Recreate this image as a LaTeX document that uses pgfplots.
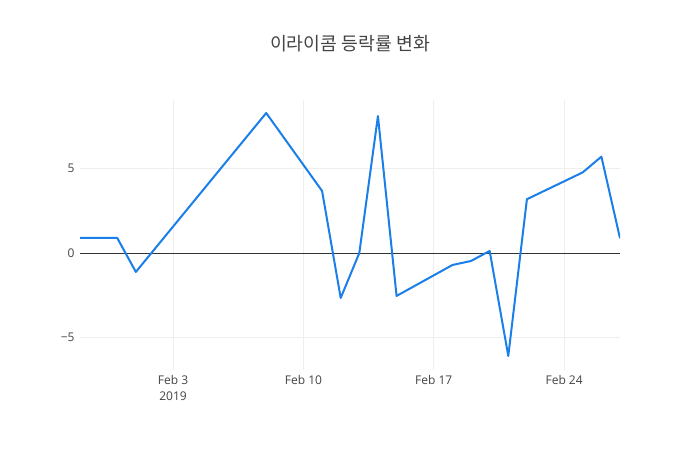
\documentclass[border=0pt]{standalone}
\usepackage{pgfplots}
\pgfplotsset{compat=1.18}
\usepackage{fontspec}
\setmainfont{Open Sans}
\newfontfamily\cjk{Noto Sans CJK KR}
\definecolor{txt}{HTML}{444444}
\definecolor{gridc}{HTML}{EEEEEE}
\definecolor{linec}{HTML}{1A7FE8}
\begin{document}
\begin{tikzpicture}[x=1bp,y=1bp]
\fill[white] (0,0) rectangle (700,450);
\node[text=txt,font=\cjk\fontsize{18.3bp}{21bp}\selectfont] at (350,406) {이라이콤 등락률 변화};
\begin{axis}[
  at={(80bp,80bp)}, anchor=south west,
  scale only axis, width=540bp, height=270bp,
  xmin=29, xmax=58, ymin=-6.92, ymax=9.05,
  axis line style={draw=none},
  tick style={draw=none},
  xtick={34,41,48,55},
  xticklabels={{Feb 3\\2019},Feb 10,Feb 17,Feb 24},
  xticklabel style={align=center, text=txt, font=\fontsize{12bp}{16bp}\selectfont, yshift=-2bp},
  ytick={-5,0,5},
  yticklabels={−5,0,5},
  yticklabel style={text=txt, font=\fontsize{12bp}{14bp}\selectfont, xshift=-2bp},
  /pgf/number format/assume math mode=true,
  xmajorgrids, ymajorgrids,
  grid style={draw=gridc, line width=0.8bp},
  clip=true,
]
\addplot[draw=black!80, line width=0.9bp, forget plot] coordinates {(29,0) (58,0)};
\addplot[linec, line width=2bp, line join=round] coordinates {
(29,0.89) (30,0.89) (31,0.89) (32,-1.12)
(39,8.28) (42,3.67) (43,-2.66) (44,0.0) (45,8.10) (46,-2.54)
(49,-0.71) (50,-0.47) (51,0.12) (52,-6.09) (53,3.18)
(56,4.77) (57,5.70) (58,0.87)
};
\end{axis}
\end{tikzpicture}
\end{document}
